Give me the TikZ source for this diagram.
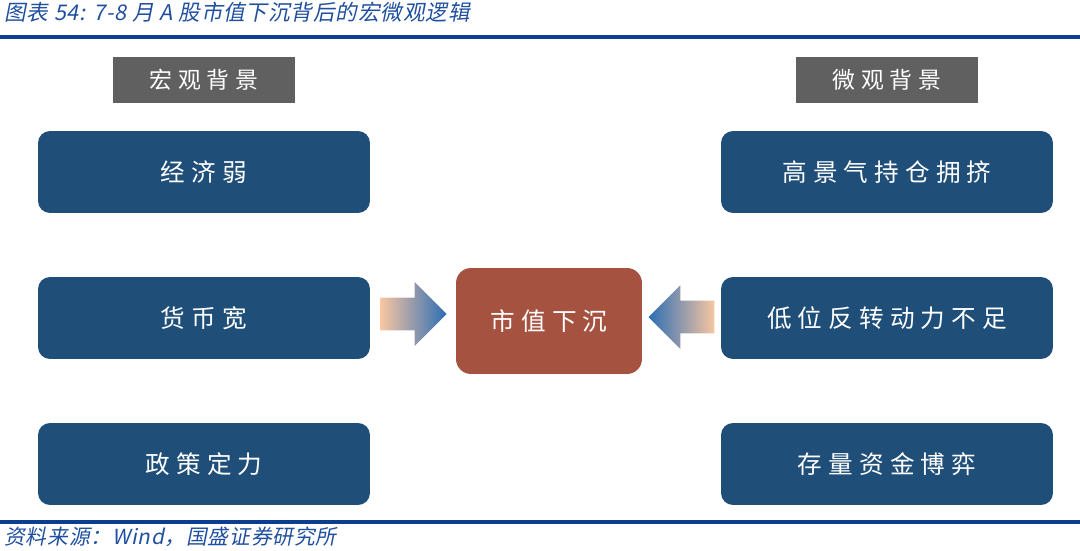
\documentclass[tikz,border=0pt]{standalone}
\usepackage{fontspec}
\setmainfont{Noto Sans CJK SC}
\newfontfamily\boxfont[LetterSpace=25]{Noto Sans CJK SC}
\newfontfamily\capfont[FakeSlant=0.2, LetterSpace=4]{Noto Sans CJK SC}
\usetikzlibrary{shapes.arrows,positioning}
\definecolor{capblue}{HTML}{1F4F9F}
\definecolor{rulecol}{HTML}{0B3D91}
\definecolor{headgray}{HTML}{606060}
\definecolor{boxblue}{HTML}{1F4E79}
\definecolor{corered}{HTML}{A65241}
\definecolor{peach}{HTML}{F8C6A2}
\definecolor{arrowblue}{HTML}{2E6DB4}

\begin{document}
\begin{tikzpicture}[x=0.02cm, y=-0.02cm,
  head/.style={fill=headgray, text=white, minimum width=3.64cm, minimum height=0.92cm,
               inner sep=0pt, font=\boxfont\fontsize{13}{15}\selectfont},
  macbox/.style={fill=boxblue, rounded corners=0.24cm, text=white, inner sep=0pt,
                 minimum width=6.64cm, minimum height=1.64cm,
                 font=\boxfont\fontsize{14}{16}\selectfont},
  core/.style={fill=corered, rounded corners=0.3cm, text=white, inner sep=0pt,
               minimum width=3.72cm, minimum height=2.12cm,
               font=\boxfont\fontsize{14}{16}\selectfont},
  push/.style={shape=single arrow, minimum height=1.32cm, inner xsep=0pt,
               inner ysep=0.32cm, single arrow head extend=0.31cm, anchor=tip},
  rulebar/.style={draw=rulecol, line width=0.08cm},
]
\useasboundingbox (0,0) rectangle (1080,551);

% caption and rules
\node[anchor=west, text=capblue, inner sep=0pt, font=\capfont\fontsize{12.3}{14}\selectfont]
  (title) at (4,12) {图表 54: 7-8 月 A 股市值下沉背后的宏微观逻辑};
\draw[rulebar] (0,37) -- (1080,37);
\draw[rulebar] (0,522) -- (1080,522);
\node[anchor=west, text=capblue, inner sep=0pt, font=\capfont\fontsize{11.8}{14}\selectfont]
  (source) at (4,537) {资料来源：Wind，国盛证券研究所};

% headers
\node[head] (machead) at (204,80) {宏观背景};
\node[head] (michead) at (887,80) {微观背景};

% left: macro
\node[macbox] (econ)   at (204,172) {经济弱};
\node[macbox] (money)  at (204,318) {货币宽};
\node[macbox] (policy) at (204,464) {政策定力};

% right: micro
\node[macbox] (crowd)  at (887,172) {高景气持仓拥挤};
\node[macbox] (rebound) at (887,318) {低位反转动力不足};
\node[macbox] (stock)  at (887,464) {存量资金博弈};

% centre
\node[core] (sink) at (549,321) {市值下沉};

\node[push, left color=peach, right color=arrowblue] (pushl) at (447,314) {};
\node[push, shape border rotate=180, left color=arrowblue, right color=peach]
  (pushr) at (648,317) {};

\end{tikzpicture}
\end{document}
